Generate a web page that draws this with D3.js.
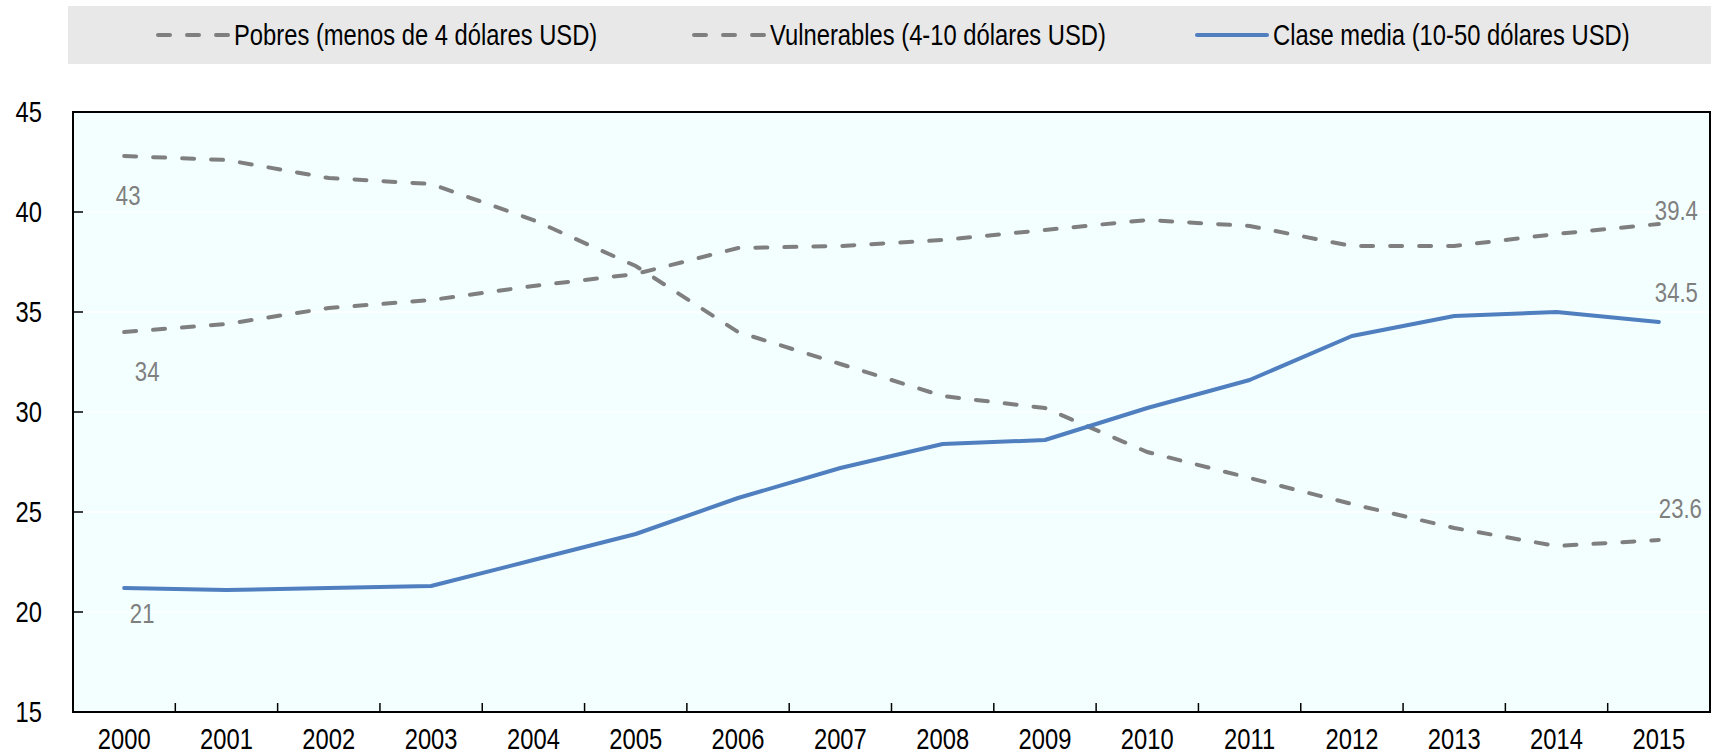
<!DOCTYPE html>
<html>
<head>
<meta charset="utf-8">
<script src="https://cdn.jsdelivr.net/npm/d3@7"></script>
<style>
body { margin: 0; background: #fff; }
svg text { font-family: "Liberation Sans", Arial, sans-serif; }
</style>
</head>
<body>
<svg id="chart" width="1716" height="755"></svg>
<script>
var years = ["2000", "2001", "2002", "2003", "2004", "2005", "2006", "2007",
    "2008", "2009", "2010", "2011", "2012", "2013", "2014", "2015"];
var pobres = [42.8, 42.6, 41.7, 41.4, 39.6, 37.3, 34.0, 32.4, 30.8, 30.2, 28.0, 26.7, 25.4, 24.2, 23.3, 23.6];
var vulnerables = [34.0, 34.4, 35.2, 35.6, 36.3, 36.9, 38.2, 38.3, 38.6, 39.1, 39.6, 39.3, 38.3, 38.3, 38.9, 39.4];
var claseMedia = [21.2, 21.1, 21.2, 21.3, 22.6, 23.9, 25.7, 27.2, 28.4, 28.6, 30.2, 31.6, 33.8, 34.8, 35.0, 34.5];
var yTicks = [15, 20, 25, 30, 35, 40, 45];
var seriesNames = ["Pobres (menos de 4 dólares USD)", "Vulnerables (4-10 dólares USD)", "Clase media (10-50 dólares USD)"];

var grey = "#7f7f7f";
var blue = "#4f7fbf";
var narrow = 0.82; // arial narrow look

var mLeft = 73, mRight = 1710, mTop = 112, mBottom = 712;
var svg = d3.select("#chart");

var x = d3.scaleBand().domain(years).range([mLeft, mRight]);
var y = d3.scaleLinear().domain([15, 45]).range([mBottom, mTop]);

// place a condensed text at px,py
function place(sel, fx, fy) {
    sel.attr("transform", function (d, i) {
        return "translate(" + fx(d, i) + "," + fy(d, i) + ") scale(" + narrow + ",1)";
    });
}

// legend
svg.append("rect").attr("x", 68).attr("y", 6).attr("width", 1643).attr("height", 58)
    .attr("fill", "#e8e8e8");
var legendItems = [
    {name: seriesNames[0], color: grey, dash: "12,17", x: 158},
    {name: seriesNames[1], color: grey, dash: "12,17", x: 694},
    {name: seriesNames[2], color: blue, dash: null, x: 1197}
];
legendItems.forEach(function (d) {
    var ln = svg.append("line").attr("x1", d.x).attr("x2", d.x + 70)
        .attr("y1", 35).attr("y2", 35)
        .attr("stroke", d.color).attr("stroke-width", 4).attr("stroke-linecap", "round");
    if (d.dash) ln.attr("stroke-dasharray", d.dash);
    svg.append("text").attr("font-size", 29).attr("fill", "#000").text(d.name)
        .call(place, function () { return d.x + 76; }, function () { return 45; });
});

// plot background
svg.append("rect").attr("x", mLeft).attr("y", mTop).attr("width", mRight - mLeft)
    .attr("height", mBottom - mTop).attr("fill", "#f3ffff");

// grid
svg.append("g").selectAll("line").data(yTicks.slice(1, -1)).enter().append("line")
    .attr("x1", mLeft).attr("x2", mRight)
    .attr("y1", function (d) { return y(d); }).attr("y2", function (d) { return y(d); })
    .attr("stroke", "#fff").attr("stroke-width", 1.5);

// y ticks inside
svg.append("g").selectAll("line").data(yTicks).enter().append("line")
    .attr("x1", mLeft).attr("x2", mLeft + 10)
    .attr("y1", function (d) { return y(d); }).attr("y2", function (d) { return y(d); })
    .attr("stroke", "#000").attr("stroke-width", 1.5);
svg.append("g").selectAll("text").data(yTicks).enter().append("text")
    .attr("dy", "0.36em").attr("text-anchor", "end").attr("font-size", 29)
    .text(function (d) { return d; })
    .call(place, function () { return 42; }, function (d) { return y(d); });

// x ticks at band boundaries, pointing up
svg.append("g").selectAll("line").data(years.slice(1)).enter().append("line")
    .attr("x1", function (d) { return x(d); }).attr("x2", function (d) { return x(d); })
    .attr("y1", mBottom).attr("y2", mBottom - 9)
    .attr("stroke", "#000").attr("stroke-width", 1.5);
svg.append("g").selectAll("text").data(years).enter().append("text")
    .attr("text-anchor", "middle").attr("font-size", 29).text(function (d) { return d; })
    .call(place, function (d) { return x(d) + x.bandwidth() / 2; }, function () { return 749; });

// lines
var line = d3.line()
    .x(function (d, i) { return x(years[i]) + x.bandwidth() / 2; })
    .y(function (d) { return y(d); });

svg.append("path").datum(pobres).attr("d", line).attr("fill", "none")
    .attr("stroke", grey).attr("stroke-width", 4).attr("stroke-dasharray", "12,17")
    .attr("stroke-linecap", "round");
svg.append("path").datum(vulnerables).attr("d", line).attr("fill", "none")
    .attr("stroke", grey).attr("stroke-width", 4).attr("stroke-dasharray", "12,17")
    .attr("stroke-linecap", "round");
svg.append("path").datum(claseMedia).attr("d", line).attr("fill", "none")
    .attr("stroke", blue).attr("stroke-width", 4).attr("stroke-linecap", "round")
    .attr("stroke-linejoin", "round");

// value labels
var labels = [
    {s: pobres, i: 0, text: "43", dx: 4, dy: 49, anchor: "middle"},
    {s: vulnerables, i: 0, text: "34", dx: 23, dy: 49, anchor: "middle"},
    {s: claseMedia, i: 0, text: "21", dx: 18, dy: 35, anchor: "middle"},
    {s: vulnerables, i: 15, text: "39.4", dx: -4, dy: -4, anchor: "start"},
    {s: claseMedia, i: 15, text: "34.5", dx: -4, dy: -20, anchor: "start"},
    {s: pobres, i: 15, text: "23.6", dx: 0, dy: -22, anchor: "start"}
];
svg.append("g").selectAll("text").data(labels).enter().append("text")
    .attr("text-anchor", function (d) { return d.anchor; })
    .attr("font-size", 27).attr("fill", grey)
    .text(function (d) { return d.text; })
    .call(place, function (d) { return x(years[d.i]) + x.bandwidth() / 2 + d.dx; },
        function (d) { return y(d.s[d.i]) + d.dy; });

// frame
svg.append("rect").attr("x", mLeft).attr("y", mTop).attr("width", mRight - mLeft)
    .attr("height", mBottom - mTop).attr("fill", "none").attr("stroke", "#000")
    .attr("stroke-width", 2);
</script>
</body>
</html>
